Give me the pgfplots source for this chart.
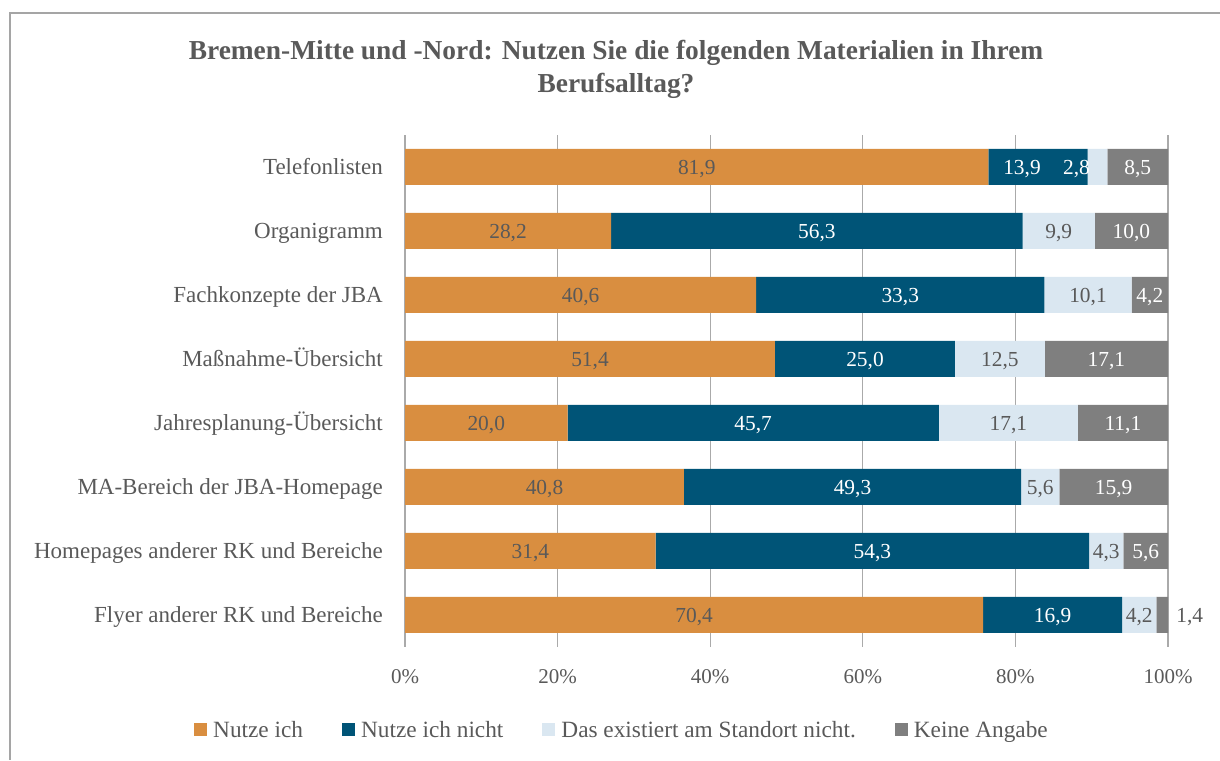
\documentclass[border=0pt]{standalone}
\usepackage{fontspec}
\setmainfont{Liberation Serif}
\usepackage{pgfplots}
\pgfplotsset{compat=1.18}
\usepackage{pgfplotstable}
\definecolor{orng}{RGB}{217,142,64}
\definecolor{dblue}{RGB}{0,84,119}
\definecolor{lblue}{RGB}{218,231,241}
\definecolor{kgray}{RGB}{127,127,127}
\definecolor{txt}{RGB}{89,89,89}
\definecolor{gridc}{RGB}{170,170,170}
\definecolor{framec}{RGB}{165,165,165}

% x = share of the bar (normalised), lab = printed value,
% dx = label shift (pt), tw = 100 for grey label text, 0 for white
\pgfplotstableread{
y x lab dx tw
7 76.47 81.9 0 100
6 27.01 28.2 0 100
5 46.03 40.6 0 100
4 48.49 51.4 0 100
3 21.30 20.0 0 100
2 36.56 40.8 0 100
1 32.85 31.4 0 100
0 75.78 70.4 0 100
}\nutze
\pgfplotstableread{
y x lab dx tw
7 12.98 13.9 -16 0
6 53.93 56.3 0 0
5 37.76 33.3 0 0
4 23.59 25.0 0 0
3 48.67 45.7 0 0
2 44.18 49.3 0 0
1 56.80 54.3 0 0
0 18.19 16.9 0 0
}\nicht
\pgfplotstableread{
y x lab dx tw
7 2.61 2.8 -21 0
6 9.48 9.9 0 100
5 11.45 10.1 0 100
4 11.79 12.5 0 100
3 18.21 17.1 0 100
2 5.02 5.6 0 100
1 4.50 4.3 0 100
0 4.52 4.2 0 100
}\existiert
\pgfplotstableread{
y x lab dx tw
7 7.94 8.5 0 0
6 9.58 10.0 0 0
5 4.76 4.2 0 0
4 16.13 17.1 0 0
3 11.82 11.1 0 0
2 14.25 15.9 0 0
1 5.86 5.6 0 0
0 1.51 1.4 27.5 100
}\keine

\pgfplotsset{
  lbl/.style={
    draw=none,
    point meta=\thisrow{lab},
    visualization depends on={\thisrow{dx}\as\dx},
    visualization depends on={\thisrow{tw}\as\tw},
    nodes near coords={\pgfmathprintnumber[fixed,fixed zerofill,precision=1,use comma,assume math mode=true]{\pgfplotspointmeta}},
    every node near coord/.append style={anchor=center, inner sep=0pt,
      text height=14.5pt, text depth=0pt, font=\fontsize{21.4}{25}\selectfont,
      text={txt!\tw!white}, xshift={1pt*\dx}},
    legend image code/.code={\fill[##1] (0pt,-6.5pt) rectangle (13pt,6.5pt);}
  }
}

\begin{document}
\begin{tikzpicture}[x=1pt,y=1pt]
\path[use as bounding box] (0,0) rectangle (1220,760);
\draw[framec, line width=1.5pt] (10,0) -- (10,747) -- (1220,747);
\node[anchor=base, font=\fontsize{27.4}{33}\selectfont\bfseries, text=txt] at (616,700)
  {Bremen-Mitte und -Nord: Nutzen Sie die folgenden Materialien in Ihrem};
\node[anchor=base, font=\fontsize{27.4}{33}\selectfont\bfseries, text=txt] at (616,667)
  {Berufsalltag?};
\begin{axis}[
  at={(405pt,113pt)}, anchor=south west,
  scale only axis, width=763pt, height=512pt,
  xbar stacked, bar width=36pt,
  xmin=0, xmax=100, ymin=-0.5, ymax=7.5,
  clip=false,
  xtick={0,20,40,60,80,100},
  xticklabels={0\%,20\%,40\%,60\%,80\%,100\%},
  ytick={0,1,2,3,4,5,6,7},
  yticklabels={Flyer anderer RK und Bereiche, Homepages anderer RK und Bereiche, MA-Bereich der JBA-Homepage, Jahresplanung-Übersicht, Maßnahme-Übersicht, Fachkonzepte der JBA, Organigramm, Telefonlisten},
  major tick length=0pt,
  axis line style={draw=none},
  xmajorgrids, ymajorgrids=false,
  major grid style={gridc, line width=1.2pt},
  x tick label style={font=\fontsize{21}{25}\selectfont, text=txt, inner sep=0pt, anchor=north, yshift=-22pt},
  y tick label style={font=\fontsize{23}{27}\selectfont, text=txt, inner sep=0pt, anchor=east, xshift=-22pt, text height=15.2pt, text depth=0pt},
  legend columns=4,
  legend style={at={(0.2831,-0.162)}, anchor=center, draw=none, fill=none,
    font=\fontsize{23.3}{28}\selectfont, text=txt,
    /tikz/every odd column/.append style={column sep=6pt},
    /tikz/every even column/.append style={column sep=39pt},
    nodes={inner sep=0pt}},
]
\addplot[fill=orng, lbl] table[x=x, y=y] {\nutze};
\addplot[fill=dblue, lbl] table[x=x, y=y] {\nicht};
\addplot[fill=lblue, lbl] table[x=x, y=y] {\existiert};
\addplot[fill=kgray, lbl] table[x=x, y=y] {\keine};
\legend{Nutze ich, Nutze ich nicht, Das existiert am Standort nicht., Keine Angabe}
\end{axis}
\end{tikzpicture}
\end{document}
